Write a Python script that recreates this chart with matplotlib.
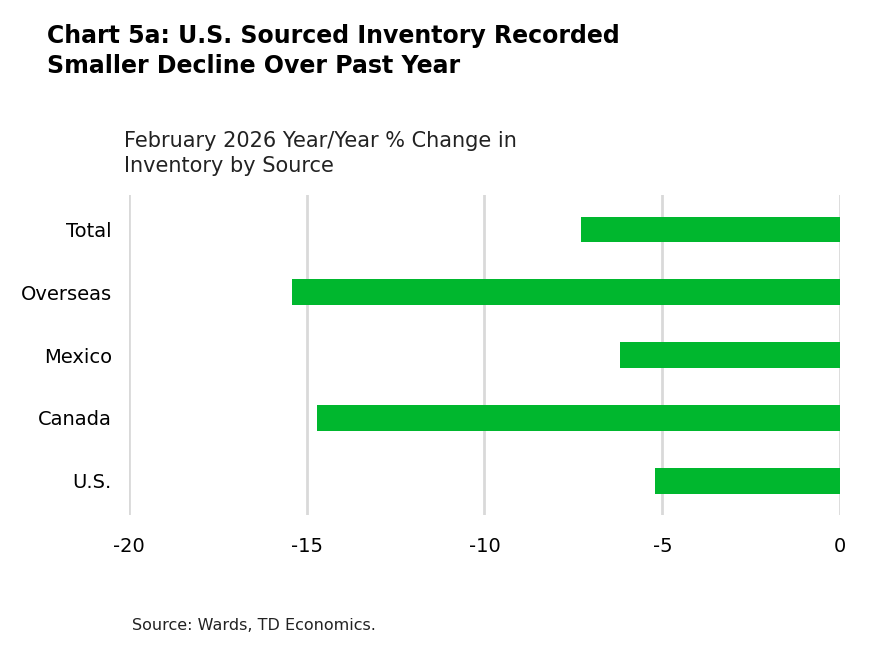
import matplotlib
matplotlib.use("Agg")
import matplotlib.pyplot as plt

categories = ["U.S.", "Canada", "Mexico", "Overseas", "Total"]
values = [-5.2, -14.7, -6.2, -15.4, -7.3]
xticks = [-20, -15, -10, -5, 0]

plt.rcParams['font.family'] = ['DejaVu Sans']
fig = plt.figure(figsize=(8.69, 6.48), dpi=100)
ax = fig.add_axes([0.148, 0.205, 0.819, 0.494])
ax.barh(range(len(categories)), values, height=0.41, color="#00b72e", zorder=3)
ax.set_xlim(-20, 0)
ax.set_ylim(-0.55, 4.55)
ax.set_xticks(xticks)
ax.set_xticklabels([str(t) for t in xticks], fontsize=14)
ax.set_yticks(range(len(categories)))
ax.set_yticklabels(categories, fontsize=14)
ax.tick_params(length=0, pad=12)
ax.tick_params(axis='x', pad=16)
for t in xticks:
    ax.axvline(t, color="#d9d9d9", lw=2, zorder=1)
for s in ax.spines.values():
    s.set_visible(False)
fig.text(0.054, 0.88, "Chart 5a: U.S. Sourced Inventory Recorded\nSmaller Decline Over Past Year",
         fontsize=17, fontweight='bold', va='bottom', linespacing=1.3)
fig.text(0.143, 0.728, "February 2026 Year/Year % Change in\nInventory by Source",
         fontsize=15, va='bottom', linespacing=1.35, color="#222222")
fig.text(0.152, 0.028, "Source: Wards, TD Economics.", fontsize=11.5, color="#222222")
fig.savefig("out.png", dpi=100)
